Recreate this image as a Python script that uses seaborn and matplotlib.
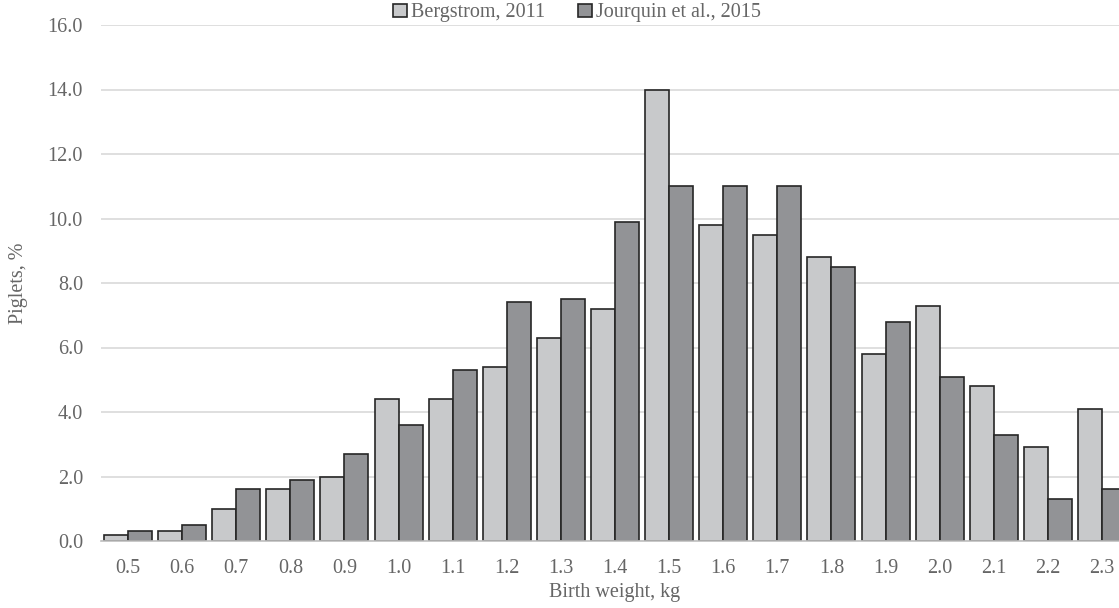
import matplotlib
matplotlib.use("Agg")
import matplotlib.pyplot as plt
import seaborn as sns
import pandas as pd

categories = ["0.5", "0.6", "0.7", "0.8", "0.9", "1.0", "1.1", "1.2", "1.3", "1.4",
              "1.5", "1.6", "1.7", "1.8", "1.9", "2.0", "2.1", "2.2", "2.3"]
bergstrom = [0.2, 0.3, 1.0, 1.6, 2.0, 4.4, 4.4, 5.4, 6.3, 7.2,
             14.0, 9.8, 9.5, 8.8, 5.8, 7.3, 4.8, 2.9, 4.1]
jourquin = [0.3, 0.5, 1.6, 1.9, 2.7, 3.6, 5.3, 7.4, 7.5, 9.9,
            11.0, 11.0, 11.0, 8.5, 6.8, 5.1, 3.3, 1.3, 1.6]
series_names = ["Bergstrom, 2011", "Jourquin et al., 2015"]
colors = ["#C8C9CB", "#929396"]

df = pd.DataFrame({
    "Birth weight": categories * 2,
    "value": bergstrom + jourquin,
    "series": [series_names[0]] * len(categories) + [series_names[1]] * len(categories),
})

sns.set_theme(style="white")
plt.rcParams["font.family"] = ["Liberation Serif", "DejaVu Serif"]
text_color = "#666666"
fs = 14.5

fig = plt.figure(figsize=(11.19, 6.08), dpi=100)
ax = fig.add_axes([101 / 1119, 1 - 541 / 608, (1129 - 101) / 1119, (541 - 25) / 608])

sns.barplot(data=df, x="Birth weight", y="value", hue="series", order=categories,
            hue_order=series_names, palette=colors, width=0.887, gap=0,
            edgecolor="#262626", linewidth=1.2, ax=ax, saturation=1)

ax.set_ylim(0, 16)
ax.set_yticks(range(0, 17, 2))
ax.set_yticklabels([f"{v:.1f}" for v in range(0, 17, 2)])
ax.yaxis.grid(True, color="#D9D9D9", linewidth=1.2)
ax.set_axisbelow(True)
for s in ["top", "right", "left"]:
    ax.spines[s].set_visible(False)
ax.spines["bottom"].set_color("#BFBFBF")
ax.spines["bottom"].set_linewidth(1.2)
ax.tick_params(axis="x", length=0, labelsize=fs, colors=text_color, pad=13)
ax.tick_params(axis="y", length=0, labelsize=fs, colors=text_color, pad=13)
ax.set_xlabel("Birth weight, kg", fontsize=fs, color=text_color, va="center")
ax.set_ylabel("Piglets, %", fontsize=fs, color=text_color, va="center")
ax.xaxis.set_label_coords(615 / 1119, 1 - 593 / 608, transform=fig.transFigure)
ax.yaxis.set_label_coords(18 / 1119, 1 - 283 / 608, transform=fig.transFigure)

leg = ax.legend(loc="center", bbox_to_anchor=(577 / 1119, 1 - 13 / 608), bbox_transform=fig.transFigure,
                ncol=2, frameon=False, fontsize=fs, handlelength=0.7, handleheight=0.65,
                handletextpad=0.2, columnspacing=1.6, borderaxespad=0.0, borderpad=0.0)
for t in leg.get_texts():
    t.set_color(text_color)

fig.savefig("out.png", dpi=100)
